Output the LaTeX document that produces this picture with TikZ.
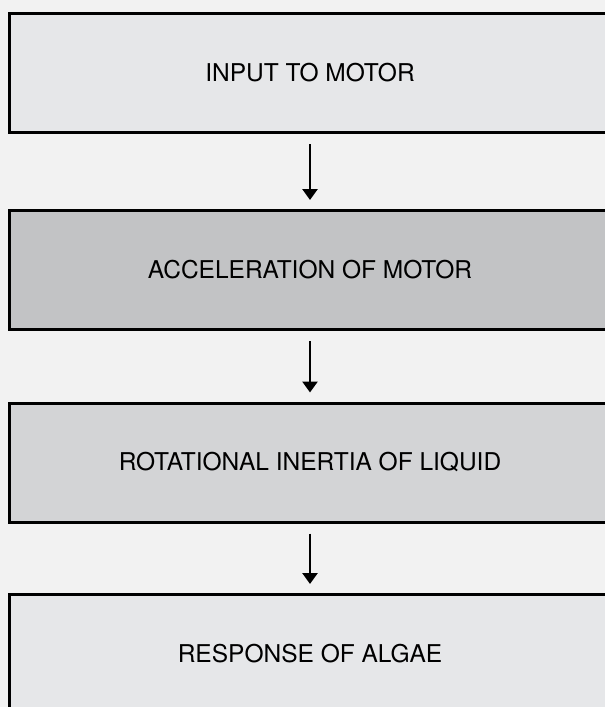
\documentclass[tikz,border=0pt]{standalone}
\usepackage{fontspec}
\setmainfont{TeX Gyre Heros}
\usetikzlibrary{arrows.meta}
\definecolor{paper}{HTML}{F2F2F2}
\definecolor{lightbox}{HTML}{E6E7E9}
\definecolor{darkbox}{HTML}{C2C3C5}
\definecolor{midbox}{HTML}{D3D4D6}
\tikzset{
  stage/.style={rectangle, draw=black, line width=3pt, minimum width=601pt, minimum height=119pt, inner sep=0pt, outer sep=0pt, font=\fontsize{24.5}{29}\selectfont},
  arrow/.style={-{Triangle[length=11pt,width=15pt]}, line width=2.6pt, shorten <=11.5pt, shorten >=10.5pt}
}

\begin{document}
\begin{tikzpicture}[x=1pt,y=-1pt]
  \useasboundingbox (0,0) rectangle (605,707);
  \clip (0,0) rectangle (605,707);
  \fill[paper] (0,0) rectangle (605,707);
  \node[stage, fill=lightbox] (input) at (310,73) {INPUT TO MOTOR};
  \node[stage, fill=darkbox] (accel) at (310,270) {ACCELERATION OF MOTOR};
  \node[stage, fill=midbox] (inertia) at (310,462.5) {ROTATIONAL INERTIA OF LIQUID};
  \node[stage, fill=lightbox] (algae) at (310,654) {RESPONSE OF ALGAE};
  \draw[arrow] (input)--(accel); \draw[arrow] (accel)--(inertia);
  \draw[arrow] (inertia)--(algae);
\end{tikzpicture}
\end{document}
